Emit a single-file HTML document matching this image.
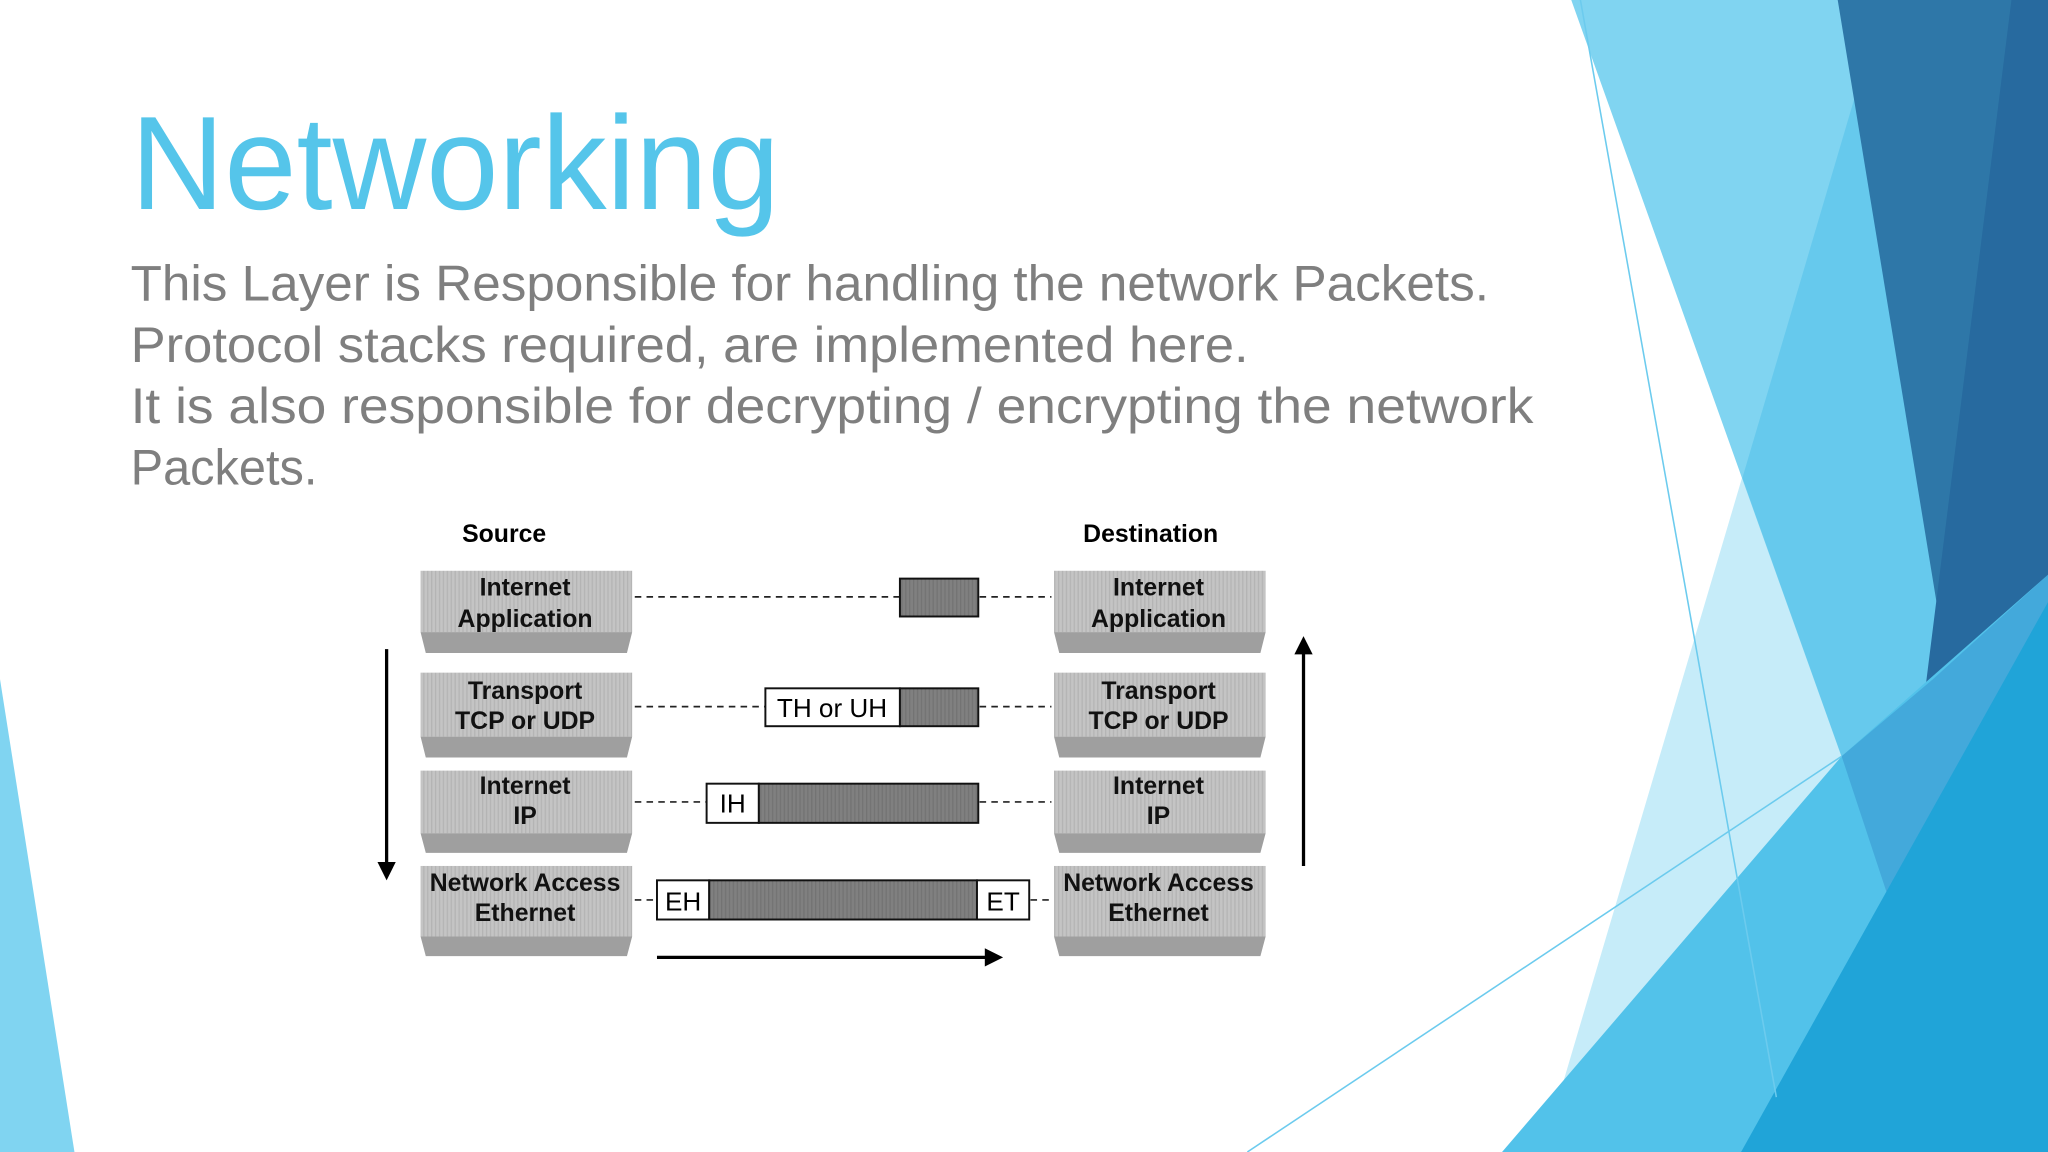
<!DOCTYPE html>
<html><head><meta charset="utf-8"><style>
html,body{margin:0;padding:0;background:#fff;}
svg{display:block;}
</style></head><body>
<svg width="2048" height="1152" viewBox="0 0 1568 882" xmlns="http://www.w3.org/2000/svg" preserveAspectRatio="none">
<defs>
<pattern id="str" width="3" height="10" patternUnits="userSpaceOnUse">
<rect width="3" height="10" fill="#c4c4c4"/><rect width="1" height="10" fill="#b4b4b4"/>
</pattern>
<pattern id="dstr" width="3" height="10" patternUnits="userSpaceOnUse">
<rect width="3" height="10" fill="#808080"/><rect width="1" height="10" fill="#737373"/>
</pattern>
</defs>
<rect width="1568" height="882" fill="#fff"/>
<!-- background shapes -->
<polygon points="1442,0 1568,0 1568,882 1181,882" fill="#c6ecf9"/>
<polygon points="1203,0 1568,0 1568,882 1518,882" fill="#80d4f1"/>
<polygon points="1442,0 1568,0 1568,882 1518,882 1334,366" fill="#66c9ed"/>
<polygon points="1407,0 1568,0 1568,460 1502,579" fill="#2e77a8"/>
<polygon points="1540,0 1568,0 1568,440 1470,560" fill="#276a9f"/>
<polygon points="1150,882 1410,579 1568,440 1568,882" fill="#52c2ea"/>
<polygon points="1410,579 1480,520 1568,440 1568,560 1450,700" fill="#3b98d0" opacity="0.6"/>
<polygon points="1333,882 1568,461 1568,882" fill="#20a4d8"/>
<line x1="1210" y1="0" x2="1360" y2="840" stroke="#6ccbee" stroke-width="1.2"/>
<line x1="955" y1="882" x2="1410" y2="579" stroke="#6ccbee" stroke-width="1.2"/>
<polygon points="0,520 0,882 57,882" fill="#80d4f1"/>

<!-- title and body -->
<text x="100" y="160" font-family="Liberation Sans, DejaVu Sans, sans-serif" font-size="102" fill="#55c5ea" textLength="497" lengthAdjust="spacingAndGlyphs">Networking</text>
<g font-family="Liberation Sans, DejaVu Sans, sans-serif" font-size="38" fill="#7f7f7f">
<text x="100" y="230" textLength="1040" lengthAdjust="spacingAndGlyphs">This Layer is Responsible for handling the network Packets.</text>
<text x="100" y="277" textLength="856" lengthAdjust="spacingAndGlyphs">Protocol stacks required, are implemented here.</text>
<text x="100" y="324" textLength="1074" lengthAdjust="spacingAndGlyphs">It is also responsible for decrypting / encrypting the network</text>
<text x="100" y="371" textLength="143" lengthAdjust="spacingAndGlyphs">Packets.</text>
</g>

<!-- diagram -->
<g font-family="Liberation Sans, DejaVu Sans, sans-serif" font-weight="bold" font-size="19" fill="#000" text-anchor="middle">
<text x="386" y="415">Source</text>
<text x="881" y="415">Destination</text>
</g>

<!-- boxes -->
<g>
<!-- row1 -->
<rect x="322" y="437" width="162" height="47" fill="url(#str)"/><polygon points="322,484 484,484 480,500 326,500" fill="#9f9f9f"/>
<rect x="807" y="437" width="162" height="47" fill="url(#str)"/><polygon points="807,484 969,484 965,500 811,500" fill="#9f9f9f"/>
<!-- row2 -->
<rect x="322" y="515" width="162" height="49" fill="url(#str)"/><polygon points="322,564 484,564 480,580 326,580" fill="#9f9f9f"/>
<rect x="807" y="515" width="162" height="49" fill="url(#str)"/><polygon points="807,564 969,564 965,580 811,580" fill="#9f9f9f"/>
<!-- row3 -->
<rect x="322" y="590" width="162" height="48" fill="url(#str)"/><polygon points="322,638 484,638 480,653 326,653" fill="#9f9f9f"/>
<rect x="807" y="590" width="162" height="48" fill="url(#str)"/><polygon points="807,638 969,638 965,653 811,653" fill="#9f9f9f"/>
<!-- row4 -->
<rect x="322" y="663" width="162" height="54" fill="url(#str)"/><polygon points="322,717 484,717 480,732 326,732" fill="#9f9f9f"/>
<rect x="807" y="663" width="162" height="54" fill="url(#str)"/><polygon points="807,717 969,717 965,732 811,732" fill="#9f9f9f"/>
</g>
<g font-family="Liberation Sans, DejaVu Sans, sans-serif" font-weight="bold" font-size="19" fill="#111" text-anchor="middle">
<text x="402" y="456">Internet</text><text x="402" y="480">Application</text>
<text x="887" y="456">Internet</text><text x="887" y="480">Application</text>
<text x="402" y="535">Transport</text><text x="402" y="558">TCP or UDP</text>
<text x="887" y="535">Transport</text><text x="887" y="558">TCP or UDP</text>
<text x="402" y="608">Internet</text><text x="402" y="631">IP</text>
<text x="887" y="608">Internet</text><text x="887" y="631">IP</text>
<text x="402" y="682">Network Access</text><text x="402" y="705">Ethernet</text>
<text x="887" y="682">Network Access</text><text x="887" y="705">Ethernet</text>
</g>

<!-- dashed connectors -->
<g stroke="#222" stroke-width="1.3" stroke-dasharray="5,4" fill="none">
<line x1="486" y1="457" x2="689" y2="457"/><line x1="750" y1="457" x2="805" y2="457"/>
<line x1="486" y1="541" x2="586" y2="541"/><line x1="750" y1="541" x2="805" y2="541"/>
<line x1="486" y1="614" x2="541" y2="614"/><line x1="750" y1="614" x2="805" y2="614"/>
<line x1="486" y1="689" x2="503" y2="689"/><line x1="789" y1="689" x2="805" y2="689"/>
</g>

<!-- packets -->
<g stroke="#111" stroke-width="1.5">
<rect x="689" y="443" width="60" height="29" fill="url(#dstr)"/>
<rect x="586" y="527" width="103" height="29" fill="#fff"/>
<rect x="689" y="527" width="60" height="29" fill="url(#dstr)"/>
<rect x="541" y="600" width="40" height="30" fill="#fff"/>
<rect x="581" y="600" width="168" height="30" fill="url(#dstr)"/>
<rect x="503" y="674" width="40" height="30" fill="#fff"/>
<rect x="543" y="674" width="205" height="30" fill="url(#dstr)"/>
<rect x="748" y="674" width="40" height="30" fill="#fff"/>
</g>
<g font-family="Liberation Sans, DejaVu Sans, sans-serif" font-size="20" fill="#000" text-anchor="middle">
<text x="637" y="549">TH or UH</text>
<text x="561" y="622">IH</text>
<text x="523" y="697">EH</text>
<text x="768" y="697">ET</text>
</g>

<!-- arrows -->
<g stroke="#000" stroke-width="2.5">
<line x1="296" y1="497" x2="296" y2="662"/>
<line x1="998" y1="663" x2="998" y2="498"/>
<line x1="503" y1="733" x2="757" y2="733"/>
</g>
<polygon points="289,660 303,660 296,674" fill="#000"/>
<polygon points="991,501 1005,501 998,487" fill="#000"/>
<polygon points="754,726 754,740 768,733" fill="#000"/>
</svg>
</body></html>
